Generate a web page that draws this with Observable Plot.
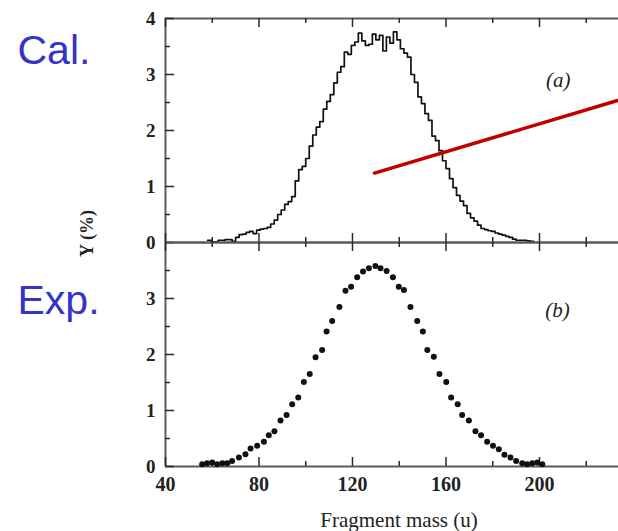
<!DOCTYPE html>
<html>
<head>
<meta charset="utf-8">
<script src="https://cdn.jsdelivr.net/npm/d3@7"></script>
<script src="https://cdn.jsdelivr.net/npm/@observablehq/plot@0.6"></script>
<style>
html, body { margin: 0; padding: 0; background: #fff; overflow: hidden; }
#wrap { position: relative; width: 618px; height: 531px; }
#wrap > div { position: absolute; left: 0; }
svg { overflow: visible; }
</style>
</head>
<body>
<div id="wrap"><div id="pa" style="top:0px"></div><div id="pb" style="top:242px"></div></div>
<script>
// ---- Data ----
// (a) Calculated yield: histogram bin edges (u) and bin heights (%)
const calMass = [58, 59.5, 61, 62.5, 64, 65.5, 67, 68.5, 70, 71.5,
  73, 74.5, 76, 77.5, 79, 80.5, 82, 83.5, 85, 86.5,
  88, 89.5, 91, 92.5, 94, 95.5, 97, 98.5, 100, 101.5,
  103, 104.5, 106, 107.5, 109, 110.5, 112, 113.5, 115, 116.5,
  118, 119.5, 121, 122.5, 124, 125.5, 127, 128.5, 130, 131.5,
  133, 134.5, 136, 137.5, 139, 140.5, 142, 143.5, 145, 146.5,
  148, 149.5, 151, 152.5, 154, 155.5, 157, 158.5, 160, 161.5,
  163, 164.5, 166, 167.5, 169, 170.5, 172, 173.5, 175, 176.5,
  178, 179.5, 181, 182.5, 184, 185.5, 187, 188.5, 190, 191.5,
  193, 194.5, 196, 197.5];
const calY = [0.04, 0.01, 0.01, 0.04, 0.04, 0.05, 0.05, 0.02, 0.09, 0.14,
  0.15, 0.18, 0.20, 0.16, 0.22, 0.24, 0.25, 0.27, 0.33, 0.40,
  0.50, 0.58, 0.68, 0.73, 0.82, 1.10, 1.30, 1.36, 1.50, 1.72,
  1.92, 2.06, 2.16, 2.38, 2.52, 2.64, 2.85, 3.04, 3.14, 3.40,
  3.36, 3.52, 3.58, 3.74, 3.60, 3.52, 3.54, 3.72, 3.62, 3.70,
  3.42, 3.67, 3.56, 3.76, 3.62, 3.46, 3.38, 3.31, 3.00, 2.86,
  2.60, 2.48, 2.30, 2.18, 1.90, 1.82, 1.64, 1.46, 1.32, 1.14,
  0.98, 0.84, 0.74, 0.66, 0.52, 0.44, 0.38, 0.31, 0.25, 0.23,
  0.21, 0.20, 0.17, 0.15, 0.13, 0.11, 0.09, 0.06, 0.04, 0.04,
  0.04, 0.03, 0.02];

// (b) Experimental yield points
const expMass = [55.7, 57.8, 60.0, 62.1, 64.3, 66.4, 68.5, 71.4, 74.2, 76.4,
  79.2, 82.1, 84.2, 86.6, 89.2, 91.8, 94.2, 96.8, 99.2, 101.7,
  104.2, 107.0, 108.9, 111.3, 114.4, 117.0, 119.4, 122.0, 124.5, 127.0,
  129.8, 132.0, 134.6, 137.3, 139.8, 142.0, 144.8, 147.7, 150.1, 152.0,
  154.8, 157.2, 160.1, 162.2, 165.0, 166.9, 169.8, 172.6, 175.0, 177.6,
  180.1, 182.6, 185.0, 187.6, 190.0, 192.6, 194.7, 196.9, 199.0, 201.2];
const expY = [0.04, 0.06, 0.07, 0.04, 0.06, 0.06, 0.10, 0.16, 0.22, 0.32,
  0.37, 0.44, 0.56, 0.63, 0.82, 0.92, 1.11, 1.23, 1.51, 1.65,
  1.95, 2.08, 2.41, 2.60, 2.85, 3.14, 3.21, 3.38, 3.48, 3.54,
  3.58, 3.54, 3.49, 3.38, 3.21, 3.15, 2.85, 2.60, 2.41, 2.08,
  1.96, 1.65, 1.51, 1.23, 1.11, 0.92, 0.82, 0.63, 0.56, 0.44,
  0.37, 0.31, 0.21, 0.16, 0.10, 0.06, 0.04, 0.06, 0.07, 0.04];

// Red annotation line (data coordinates of panel a)
const arrowMass = [129.4, 233.8];
const arrowY = [1.24, 2.54];

// Panel tags and their anchor positions
const panelTags = ["(a)", "(b)"];
const tagMass = [208, 207.7];
const tagY = [2.89, 2.79];
const sideLabels = ["Cal.", "Exp."];

// Axis ticks
const xTickLabels = [40, 80, 120, 160, 200];
const xMinorTicks = [60, 100, 140, 180, 220];
const yTicksA = [0, 1, 2, 3, 4];
const yTicksB = [0, 1, 2, 3];
const yMinorTicks = [0.5, 1.5, 2.5, 3.5];
const xTitle = "Fragment mass (u)";
const yTitle = "Y (%)";

// ---- Build tables ----
const calRows = calY.map((y, i) => ({mass: calMass[i], y}));
calRows.push({mass: calMass[calMass.length - 1], y: calY[calY.length - 1]});
const expRows = expMass.map((m, i) => ({mass: m, y: expY[i]}));
const arrowRows = arrowMass.map((m, i) => ({mass: m, y: arrowY[i]}));

const W = 618, ML = 165, IW = 453, IH = 224;
const XD = [40, 233.8];
const serif = "'Liberation Serif', 'Times New Roman', serif";
const svgStyle = {background: "transparent", overflow: "visible", fontFamily: serif};
const tickStyle = {stroke: "#2a2a2a", strokeWidth: 1.5};
const frameStyle = {stroke: "#5a5a5a", strokeWidth: 2};
const fmt = d => String(d);

function frameTicks(yMajor) {
  return [
    Plot.tickX(xTickLabels, {insetTop: IH - 9, ...tickStyle}),
    Plot.tickX(xMinorTicks, {insetTop: IH - 5, ...tickStyle}),
    Plot.tickX(xTickLabels, {insetBottom: IH - 9, ...tickStyle}),
    Plot.tickX(xMinorTicks, {insetBottom: IH - 5, ...tickStyle}),
    Plot.tickY(yMajor, {insetRight: IW - 9, ...tickStyle}),
    Plot.tickY(yMinorTicks, {insetRight: IW - 5, ...tickStyle})
  ];
}

const plotA = Plot.plot({
  width: W, height: IH + 19, marginLeft: ML, marginRight: 0, marginTop: 18, marginBottom: 1,
  x: {domain: XD, axis: null},
  y: {domain: [0, 4], axis: null},
  style: svgStyle,
  marks: [
    Plot.ruleY([0, 4], frameStyle),
    Plot.ruleX([40], frameStyle),
    ...frameTicks(yTicksA),
    Plot.line(calRows, {x: "mass", y: "y", curve: "step-after", stroke: "#111", strokeWidth: 1.7}),
    Plot.line(arrowRows, {x: "mass", y: "y", stroke: "#c00000", strokeWidth: 3.5}),
    Plot.text([panelTags[0]], {x: () => tagMass[0], y: () => tagY[0], fontStyle: "italic", fontSize: 21, fill: "#222"}),
    Plot.axisY(yTicksA, {tickSize: 0, tickPadding: 10, tickFormat: fmt, label: null, fontSize: 19, fontWeight: "bold", fill: "#222"}),
    Plot.text([sideLabels[0]], {frameAnchor: "top-left", dx: -148, dy: 45, textAnchor: "start", lineAnchor: "bottom",
      fontFamily: "'Liberation Sans', Arial, sans-serif", fontSize: 41, fill: "#3434c8"}),
    Plot.text([yTitle], {frameAnchor: "bottom-left", rotate: -90, dx: -78, dy: -9, textAnchor: "middle", lineAnchor: "middle",
      fontWeight: "bold", fontSize: 18, fill: "#222"})
  ]
});

const plotB = Plot.plot({
  width: W, height: IH + 65, marginLeft: ML, marginRight: 0, marginTop: 0, marginBottom: 65,
  x: {domain: XD, axis: null},
  y: {domain: [0, 4], axis: null},
  style: svgStyle,
  marks: [
    Plot.ruleY([0, 4], frameStyle),
    Plot.ruleX([40], frameStyle),
    ...frameTicks(yTicksB),
    Plot.dot(expRows, {x: "mass", y: "y", r: 3, fill: "#111", stroke: "none"}),
    Plot.text([panelTags[1]], {x: () => tagMass[1], y: () => tagY[1], fontStyle: "italic", fontSize: 21, fill: "#222"}),
    Plot.axisY(yTicksB, {tickSize: 0, tickPadding: 10, tickFormat: fmt, label: null, fontSize: 19, fontWeight: "bold", fill: "#222"}),
    Plot.axisX(xTickLabels, {tickSize: 0, tickPadding: 10, tickFormat: fmt, label: null, fontSize: 20, fontWeight: "bold", fill: "#222"}),
    Plot.text([xTitle], {frameAnchor: "bottom", dx: 7, dy: 60, textAnchor: "middle", lineAnchor: "bottom", fontSize: 21, fill: "#222"}),
    Plot.text([sideLabels[1]], {frameAnchor: "top-left", dx: -148, dy: 71, textAnchor: "start", lineAnchor: "bottom",
      fontFamily: "'Liberation Sans', Arial, sans-serif", fontSize: 41, fill: "#3434c8"})
  ]
});

document.getElementById("pa").appendChild(plotA);
document.getElementById("pb").appendChild(plotB);
</script>
</body>
</html>
